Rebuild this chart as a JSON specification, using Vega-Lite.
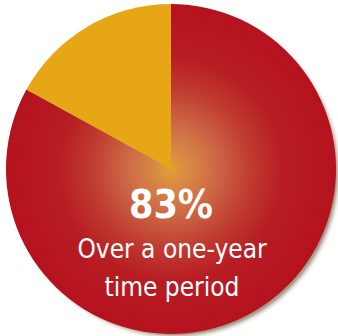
{
  "$schema": "https://vega.github.io/schema/vega-lite/v6.json",
  "width": 330,
  "height": 330,
  "padding": {"left": 6, "top": 4, "right": 2, "bottom": 2},
  "autosize": {"type": "none"},
  "background": "white",
  "view": {"stroke": null},
  "resolve": {"scale": {"theta": "independent"}},
  "layer": [
    {
      "data": {"values": [{"part": "shadow", "value": 1}]},
      "mark": {
        "type": "arc",
        "xOffset": 4,
        "yOffset": 4,
        "radius": 168,
        "color": {
          "gradient": "radial",
          "x1": 0.5, "y1": 0.5, "r1": 0,
          "x2": 0.5, "y2": 0.5, "r2": 0.5,
          "stops": [
            {"offset": 0, "color": "#a89c8c"},
            {"offset": 0.96, "color": "#a89c8c"},
            {"offset": 1, "color": "rgba(255,255,255,0)"}
          ]
        }
      },
      "encoding": {"theta": {"field": "value", "type": "quantitative"}}
    },
    {
      "data": {
        "values": [
          {"category": "Over a one-year time period", "value": 83, "rank": 1},
          {"category": "Other", "value": 17, "rank": 2}
        ]
      },
      "mark": {"type": "arc"},
      "encoding": {
        "theta": {"field": "value", "type": "quantitative", "stack": true},
        "order": {"field": "rank", "type": "quantitative"},
        "color": {
          "condition": {
            "test": "datum.rank === 1",
            "value": {
              "gradient": "radial",
              "x1": 0.5, "y1": 0.5, "r1": 0,
              "x2": 0.5, "y2": 0.5, "r2": 0.5,
              "stops": [
                {"offset": 0, "color": "#e2a12c"},
                {"offset": 0.1, "color": "#d98a45"},
                {"offset": 0.28, "color": "#cd6746"},
                {"offset": 0.48, "color": "#c03c30"},
                {"offset": 0.68, "color": "#b71d23"},
                {"offset": 1, "color": "#b5121e"}
              ]
            }
          },
          "value": "#e6a616"
        }
      }
    },
    {
      "data": {"values": [{"label": "83%"}]},
      "mark": {
        "type": "text",
        "font": "'DejaVu Sans Condensed', sans-serif",
        "fontWeight": "bold",
        "fontSize": 39,
        "color": "white",
        "align": "center",
        "baseline": "alphabetic",
        "dx": 0,
        "dy": 49
      },
      "encoding": {"text": {"field": "label", "type": "nominal"}}
    },
    {
      "data": {"values": [{"label": "Over a one-year|time period"}]},
      "mark": {
        "type": "text",
        "font": "'DejaVu Sans Condensed', sans-serif",
        "fontSize": 26,
        "color": "white",
        "align": "center",
        "baseline": "alphabetic",
        "lineBreak": "|",
        "lineHeight": 38,
        "dx": 1,
        "dy": 89
      },
      "encoding": {"text": {"field": "label", "type": "nominal"}}
    }
  ]
}
